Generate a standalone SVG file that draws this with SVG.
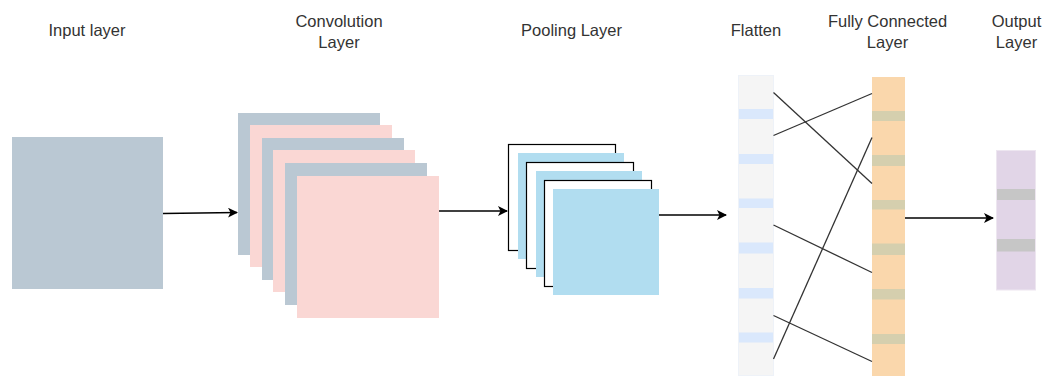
<svg xmlns="http://www.w3.org/2000/svg" width="1048" height="376" viewBox="0 0 1048 376">
<style>
  .lbl { font-family: "Liberation Sans", Arial, sans-serif; font-size: 16.5px; fill: #333333; text-anchor: middle; }
  .gray { fill: #BAC8D3; }
  .pink { fill: #FAD7D4; }
  .blue { fill: #B1DDF0; }
  .wbox { fill: #FFFFFF; stroke: #000000; stroke-width: 1.2; }
  .conn { fill: none; stroke: #000000; stroke-width: 1.3; }
  .cross { fill: none; stroke: #333333; stroke-width: 1.3; }
</style>
<defs>
  <marker id="arr" viewBox="0 0 10 10" refX="9" refY="5" markerWidth="10" markerHeight="10" markerUnits="userSpaceOnUse" orient="auto">
    <path d="M0,0 L10,5 L0,10 L2.5,5 Z" fill="#000000"/>
  </marker>
</defs>
<rect width="1048" height="376" fill="#FFFFFF"/>

<g id="labels">
  <text class="lbl" x="87" y="36">Input layer</text>
  <text class="lbl" x="339" y="27">Convolution</text>
  <text class="lbl" x="339" y="47.5">Layer</text>
  <text class="lbl" x="571.5" y="36">Pooling Layer</text>
  <text class="lbl" x="756" y="36">Flatten</text>
  <text class="lbl" x="887.5" y="27">Fully Connected</text>
  <text class="lbl" x="887.5" y="47.5">Layer</text>
  <text class="lbl" x="1016.5" y="27">Output</text>
  <text class="lbl" x="1016.5" y="47.5">Layer</text>
</g>

<g id="input-layer">
  <rect class="gray" x="12" y="137" width="151" height="152"/>
</g>

<g id="convolution-layer">
  <rect class="gray" x="238" y="113" width="142" height="142"/>
  <rect class="pink" x="250" y="125" width="142" height="142"/>
  <rect class="gray" x="262" y="138" width="142" height="142"/>
  <rect class="pink" x="273" y="150" width="142" height="142"/>
  <rect class="gray" x="285" y="163" width="142" height="142"/>
  <rect class="pink" x="297" y="176" width="142" height="142"/>
</g>

<g id="pooling-layer">
  <rect class="wbox" x="508.5" y="144.5" width="107" height="106"/>
  <rect class="blue" x="518" y="153" width="106" height="106"/>
  <rect class="wbox" x="526.5" y="162.5" width="107" height="106"/>
  <rect class="blue" x="536" y="171" width="106" height="106"/>
  <rect class="wbox" x="544.5" y="180.5" width="107" height="106"/>
  <rect class="blue" x="553" y="189" width="106" height="106"/>
</g>

<g id="flatten">
  <rect x="738.5" y="75.5" width="35" height="300" fill="#F5F5F5" stroke="#EEF2F8" stroke-width="1"/>
  <rect x="739" y="109" width="34" height="10" fill="#DAE8FC"/>
  <rect x="739" y="154" width="34" height="10" fill="#DAE8FC"/>
  <rect x="739" y="198.5" width="34" height="9.5" fill="#DAE8FC"/>
  <rect x="739" y="242.5" width="34" height="11" fill="#DAE8FC"/>
  <rect x="739" y="288" width="34" height="10.5" fill="#DAE8FC"/>
  <rect x="739" y="332.5" width="34" height="10" fill="#DAE8FC"/>
</g>

<g id="fully-connected">
  <rect x="872" y="77" width="33" height="299" fill="#FAD7AC"/>
  <rect x="872" y="111" width="33" height="10" fill="#D5CFAE"/>
  <rect x="872" y="155" width="33" height="11" fill="#D5CFAE"/>
  <rect x="872" y="200" width="33" height="9.5" fill="#D5CFAE"/>
  <rect x="872" y="243.5" width="33" height="11.5" fill="#D5CFAE"/>
  <rect x="872" y="289" width="33" height="10.5" fill="#D5CFAE"/>
  <rect x="872" y="334" width="33" height="10" fill="#D5CFAE"/>
</g>

<g id="output-layer">
  <rect x="996.5" y="150.5" width="39" height="139.5" fill="#E1D5E7" stroke="#EDE6F0" stroke-width="1"/>
  <rect x="997" y="189" width="38" height="11" fill="#C6C6C6"/>
  <rect x="997" y="239" width="38" height="12.5" fill="#C6C6C6"/>
</g>

<g id="connectors">
  <path class="conn" d="M163,213.5 L237,212.5" marker-end="url(#arr)"/>
  <path class="conn" d="M439,211 L507,211" marker-end="url(#arr)"/>
  <path class="conn" d="M659,215 L726,215" marker-end="url(#arr)"/>
  <path class="conn" d="M905,218 L993,218" marker-end="url(#arr)"/>
  <path class="cross" d="M773.5,92.5 L872,183.5"/>
  <path class="cross" d="M773.5,135.5 L872,93.5"/>
  <path class="cross" d="M773.5,225 L872,272.5"/>
  <path class="cross" d="M773.5,315.5 L872,361.5"/>
  <path class="cross" d="M773.5,359 L872,137.5"/>
</g>
</svg>
